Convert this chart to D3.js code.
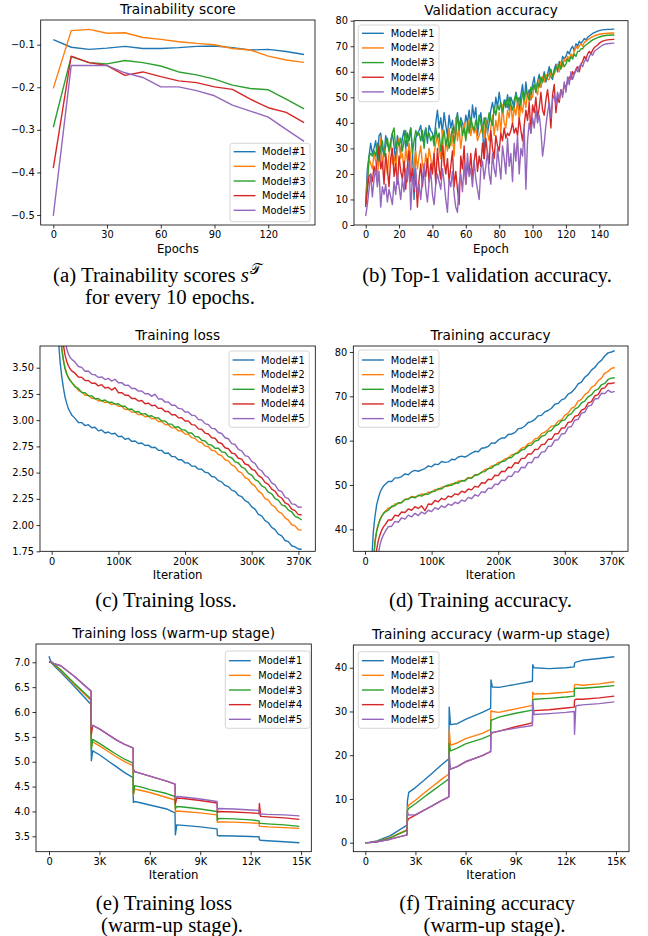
<!DOCTYPE html>
<html><head><meta charset="utf-8">
<script src="https://cdn.jsdelivr.net/npm/d3@7"></script>
<style>body{margin:0;background:#fff}</style>
</head><body>
<svg id="c" width="648" height="936" xmlns="http://www.w3.org/2000/svg"></svg>
<script>
// ---------------- DATA ----------------
const models = ["Model#1","Model#2","Model#3","Model#4","Model#5"];
const colors = ["#1f77b4","#ff7f0e","#2ca02c","#d62728","#9467bd"];

// (a) trainability score every 10 epochs
const scoreEpochs = [0,10,20,30,40,50,60,70,80,90,100,110,120,130,140];
const score1 = [-0.088,-0.106,-0.111,-0.108,-0.104,-0.109,-0.109,-0.107,-0.104,-0.103,-0.107,-0.1125,-0.111,-0.116,-0.123];
const score2 = [-0.2025,-0.067,-0.064,-0.073,-0.072,-0.083,-0.0875,-0.093,-0.097,-0.100,-0.109,-0.1125,-0.127,-0.136,-0.1415];
const score3 = [-0.294,-0.128,-0.142,-0.145,-0.137,-0.142,-0.150,-0.164,-0.171,-0.181,-0.195,-0.203,-0.206,-0.228,-0.251];
const score4 = [-0.390,-0.127,-0.142,-0.149,-0.172,-0.164,-0.175,-0.185,-0.189,-0.199,-0.205,-0.228,-0.248,-0.259,-0.283];
const score5 = [-0.502,-0.149,-0.149,-0.149,-0.166,-0.177,-0.199,-0.199,-0.208,-0.220,-0.242,-0.256,-0.270,-0.299,-0.327];

// (b) top-1 validation accuracy per epoch (0..149)
const valEpochs = [0,1,2,3,4,5,6,7,8,9,10,11,12,13,14,15,16,17,18,19,20,21,22,23,24,25,26,27,28,29,30,31,32,33,34,35,36,37,38,39,40,41,42,43,44,45,46,47,48,49,50,51,52,53,54,55,56,57,58,59,60,61,62,63,64,65,66,67,68,69,70,71,72,73,74,75,76,77,78,79,80,81,82,83,84,85,86,87,88,89,90,91,92,93,94,95,96,97,98,99,100,101,102,103,104,105,106,107,108,109,110,111,112,113,114,115,116,117,118,119,120,121,122,123,124,125,126,127,128,129,130,131,132,133,134,135,136,137,138,139,140,141,142,143,144,145,146,147,148,149];
const val1 = [8,22,27,32,28,30,33,26,35,36, 30,27,35,32,29,33,36,31,25,35, 32,28,34,37,30,36,33,38,30,10, 34,36,37,39,33,35,38,32,39,37,
 36,33,40,45,38,42,36,44,39,35, 43,38,41,36,40,44,38,42,40,37, 43,40,45,38,47,42,46,35,41,44, 38,26,42,36,40,45,48,44,50,46,
 52,47,44,49,46,51,45,50,48,46, 52,49,45,51,55,48,56,50,53,49, 55,58,52,56,59,54,57,60,56,59, 62,58,57,61,63,60,64,62,66,65,
 66,68,67,69,70,68,71,70,72,71, 72,73,72.5,73.5,74,74.5,75,75.3,75.6,75.9, 76.1,76.3,76.4,76.5,76.5,76.6,76.6,76.6,76.7,76.7];
const val2 = [10,17,26,24,22,28,25,18,27,34, 22,30,26,20,28,33,24,27,22,29, 34,26,28,21,30,25,32,27,19,24, 29,22,27,31,24,20,28,23,30,26,
 22,28,32,35,30,26,37,23,33,29, 38,31,35,27,42,33,38,30,36,40, 34,37,41,35,39,36,38,33,35,37, 39,34,41,36,33,38,43,35,41,37,
 44,36,47,40,38,45,42,48,40,46, 43,49,41,47,44,50,46,52,48,51, 50,55,53,51,57,54,58,56,59,57, 57,60,58,59,61,63,60,64,62,65,
 64,66,65,67,66,68,70,69,70,71, 70,71.5,72,72.5,73,73.4,73.8,74.1,74.3,74.5, 74.7,74.8,74.9,75.0,75.0,75.1,75.1,75.2,75.2,75.2];
const val3 = [8,15,27,28,27,29,27,32,25,30, 33,27,31,34,29,32,36,38,30,33, 31,34,29,33,37,31,35,38,28,33, 37,35,36,33,37,30,38,34,36,33,
 35,31,38,34,36,29,33,37,31,35, 30,34,38,32,36,43,37,41,35,38, 33,40,36,42,39,37,41,38,43,40, 36,42,38,40,44,41,39,46,43,47,
 45,48,44,47,49,46,50,47,45,49, 51,48,50,47,52,49,53,51,49,54, 53,55,52,56,54,58,56,59,57,58, 59,61,58,60,62,61,63,61,64,62,
 63,65,64,66,65,67,66,68,68,69, 69,70,70.5,71,71.5,72,72.5,72.8,73.1,73.4, 73.6,73.8,74.0,74.1,74.2,74.3,74.3,74.4,74.4,74.4];
const val4 = [7,14,19,20,17,23,20,26,31,22, 25,16,28,22,15,26,30,19,24,16, 27,21,18,25,14,23,29,17,22,13, 20,7,18,24,15,22,19,26,17,24,
 20,28,16,30,22,18,31,25,20,26, 17,23,29,15,21,14,8,27,22,31, 16,24,20,28,18,25,30,21,27,23, 32,26,34,28,24,37,30,26,35,31,
 29,36,33,38,34,36,35,37,40,36, 38,35,42,37,33,39,45,41,48,36, 47,44,50,42,46,52,45,43,49,53, 47,38,51,55,44,50,48,53,51,55,
 54,56,58,57,60,59,61,62,60,63, 64,66,65,67,68,67,68.5,69.5,70,70.5, 71.2,71.6,72.0,72.2,72.4,72.5,72.6,72.6,72.7,72.7];
const val5 = [3.5,8,14,20,11,18,22,15,21,7, 15,12,16,9,14,11,8,17,12,20, 15,10,18,13,22,17,25,6,19,14, 22,12,16,10,18,24,14,9,17,21,
 12,8,16,20,17,14,22,17,10,5, 18,15,21,12,7,5,16,20,13,24, 16,28,19,22,15,25,18,14,10,22, 25,18,23,29,20,16,28,22,19,30,
 24,18,31,26,20,34,23,28,17,32, 25,35,20,30,27,38,14,33,40,36, 42,38,45,40,43,37,27,32,39,44, 48,42,49,51,47,52,49,53,50,56,
 52,58,55,60,57,59,61,60,62,63, 62,64,65,64,66,67,66.5,68,68.5,69, 69.5,70.0,70.4,70.7,70.9,71.0,71.1,71.1,71.2,71.2];

// (c),(d) training loss / accuracy vs iteration (K)
const iterK = [0,5,10,12.5,15,17.5,20,22.5,25,27.5,30,35,40,45,50,55,60,65,70,75,80,85,90,95,100,105,110,115,120,125,130,135,140,145,150,155,160,165,170,175,180,185,190,195,200,205,210,215,220,225,230,235,240,245,250,255,260,265,270,275,280,285,290,295,300,305,310,315,320,325,330,335,340,345,350,355,360,365,370,375];
const loss1 = [7.0,5.3,3.78,3.56,3.42,3.31,3.22,3.16,3.11,3.08,3.05,
 3.017,2.978,2.977,2.948,2.957,2.928,2.932,2.898,2.907,2.878,2.887,2.868,2.875,2.843,
 2.847,2.818,2.827,2.798,2.802,2.778,2.782,2.758,2.762,2.738,
 2.742,2.713,2.712,2.683,2.687,2.653,2.652,2.623,2.622,2.593,
 2.592,2.563,2.562,2.533,2.532,2.503,2.497,2.463,2.457,2.423,
 2.412,2.378,2.367,2.333,2.322,2.283,2.272,2.233,2.217,2.173,
 2.152,2.103,2.087,2.043,2.022,1.978,1.957,1.913,1.897,1.853,
 1.842,1.803,1.792,1.772,1.77];
const loss2 = [7.0,5.8,4.4,3.95,3.7,3.58,3.5,3.45,3.41,3.38,3.36,
 3.327,3.283,3.272,3.238,3.237,3.208,3.207,3.183,3.187,3.168,3.172,3.148,3.157,3.133,
 3.132,3.103,3.102,3.078,3.077,3.053,3.057,3.033,3.037,3.013,
 3.017,2.988,2.987,2.958,2.957,2.928,2.927,2.898,2.897,2.868,
 2.867,2.833,2.827,2.793,2.787,2.753,2.747,2.713,2.707,2.673,
 2.662,2.623,2.612,2.573,2.557,2.513,2.497,2.453,2.437,2.393,
 2.372,2.323,2.302,2.253,2.237,2.193,2.172,2.128,2.112,2.068,
 2.047,2.003,1.992,1.955,1.952];
const loss3 = [7.0,5.8,4.35,3.92,3.68,3.57,3.49,3.44,3.405,3.38,3.36,
 3.318,3.302,3.263,3.262,3.233,3.232,3.203,3.207,3.183,3.192,3.168,3.172,3.153,3.157,
 3.133,3.132,3.103,3.107,3.078,3.082,3.058,3.062,3.038,3.042,
 3.023,3.022,2.993,2.992,2.963,2.962,2.933,2.937,2.908,2.907,
 2.878,2.877,2.843,2.842,2.808,2.802,2.768,2.762,2.733,2.732,
 2.698,2.692,2.653,2.642,2.603,2.592,2.553,2.537,2.493,2.477,
 2.433,2.417,2.373,2.357,2.313,2.297,2.253,2.237,2.193,2.182,
 2.143,2.127,2.083,2.07,2.048];
const loss4 = [7.0,6.1,4.9,4.35,3.95,3.72,3.62,3.56,3.52,3.49,3.47,
 3.448,3.412,3.408,3.377,3.378,3.352,3.353,3.327,3.338,3.307,3.313,3.287,3.31,3.262,
 3.263,3.237,3.238,3.207,3.208,3.182,3.188,3.157,3.163,3.137,
 3.143,3.112,3.113,3.082,3.083,3.052,3.053,3.022,3.023,2.992,
 2.993,2.957,2.953,2.917,2.913,2.877,2.868,2.832,2.828,2.787,
 2.778,2.737,2.728,2.687,2.678,2.637,2.628,2.582,2.573,2.532,
 2.518,2.472,2.453,2.407,2.388,2.342,2.323,2.277,2.258,2.212,
 2.198,2.152,2.138,2.1,2.098];
const loss5 = [7.0,6.3,5.2,4.7,4.25,3.95,3.78,3.68,3.63,3.6,3.58,
 3.553,3.512,3.503,3.467,3.468,3.437,3.433,3.407,3.413,3.387,3.398,3.372,3.39,3.357,
 3.358,3.332,3.333,3.302,3.303,3.277,3.278,3.252,3.253,3.227,
 3.248,3.202,3.203,3.172,3.173,3.142,3.143,3.112,3.108,3.077,
 3.078,3.047,3.043,3.007,3.003,2.967,2.958,2.922,2.918,2.882,
 2.873,2.832,2.823,2.777,2.768,2.722,2.708,2.662,2.653,2.607,
 2.588,2.537,2.518,2.472,2.453,2.402,2.383,2.332,2.318,2.267,
 2.253,2.202,2.197,2.17,2.172];
const acc1 = [0,5,33,39.5,43,45.5,47,48.3,49.1,49.7,50.1,
 50.8,50.8,51.6,51.6,51.9,52.5,52.3,53.0,53.3,53.1,53.4,53.7,54.3,54.1,
 54.7,54.6,55.3,55.1,55.2,55.8,55.7,56.3,56.5,56.3,
 56.7,57.2,57.6,57.5,58.3,58.4,58.7,59.5,59.4,60.1,
 60.6,60.6,61.4,61.5,61.8,62.7,62.8,63.3,64.1,64.3,
 64.8,65.6,65.7,66.5,66.8,67.3,68.2,68.4,69.2,69.5,
 70.5,70.9,71.7,72.8,73.2,74.3,74.9,75.9,76.5,77.5,
 78.1,79.1,79.8,80.0,80.3];
const acc2 = [0,2,22,33,37.5,39.8,41.2,42.3,43.0,43.6,44.0,
 44.8,44.9,45.7,45.8,46.1,46.8,46.9,47.4,47.3,47.5,48.0,47.8,48.4,48.3,
 49.0,48.9,49.5,49.7,49.7,50.3,50.2,50.9,50.8,51.1,
 51.7,51.6,52.3,52.4,52.8,53.5,53.6,54.3,54.4,55.1,
 55.2,55.9,56.1,56.8,57.0,57.5,58.3,58.5,59.3,59.5,
 60.4,60.6,61.6,61.9,62.5,63.3,63.4,64.4,64.7,65.7,
 66.2,67.3,67.7,68.9,69.3,70.4,70.9,72.0,72.5,73.5,
 74.1,75.2,75.6,76.3,76.5];
const acc3 = [0,2,21,32,37,39.5,41.0,42.1,42.9,43.5,43.9,
 44.3,45.2,45.3,46.0,46.0,46.7,46.8,47.3,47.1,47.7,47.5,48.0,47.9,48.5,
 48.6,49.2,49.1,49.7,50.0,49.9,50.5,50.4,51.0,50.9,
 51.6,51.5,52.2,52.3,52.9,53.0,53.7,53.8,54.5,54.6,
 55.3,55.4,56.1,56.2,57.0,57.2,57.9,58.1,58.9,59.0,
 59.9,60.1,61.0,61.2,62.1,62.3,63.3,63.6,64.5,64.7,
 65.7,66.1,67.1,67.5,68.5,68.9,69.9,70.3,71.3,71.6,
 72.6,72.9,73.8,74.1,74.2];
const acc4 = [0,1.5,15,25,31.5,35.5,37.5,38.8,39.8,40.5,41.0,
 42.1,42.1,43.2,43.0,43.9,43.8,44.6,44.3,45.1,44.7,45.3,44.2,45.7,45.6,
 46.5,46.2,47.0,46.7,47.5,47.3,48.0,47.8,48.6,48.3,
 49.1,48.9,49.7,49.5,50.5,50.4,51.3,51.2,52.2,52.1,
 53.1,53.0,54.0,53.9,55.0,54.9,56.0,56.0,57.0,57.0,
 58.0,58.1,59.1,59.2,60.3,60.3,61.5,61.6,62.8,62.9,
 64.1,64.3,65.5,65.7,66.9,67.2,68.5,68.8,70.1,70.4,
 71.7,71.9,72.9,72.9,73.1];
const acc5 = [0,1,10,18,25,31,34.5,36.5,37.8,38.7,39.4,
 40.6,40.7,41.8,41.6,42.6,42.3,43.2,42.8,43.6,43.1,43.9,43.5,44.3,44.0,
 44.9,44.5,45.3,44.9,45.7,45.4,46.1,45.8,46.6,46.3,
 47.2,46.9,47.8,47.5,48.5,48.3,49.3,49.2,50.2,50.1,
 51.1,51.0,52.0,51.9,53.0,52.9,54.0,53.9,55.1,55.0,
 56.2,56.2,57.4,57.5,58.7,58.8,60.1,60.2,61.5,61.6,
 63.0,63.2,64.6,64.8,66.2,66.4,67.8,68.0,69.4,69.5,
 70.7,70.6,71.4,70.9,71.1];

// (e),(f) warm-up stage vs iteration (K)
const warmK = [0,0.1,0.3,0.7,1.5,2.5,2.52,2.6,3,3.5,4,4.5,5,5.02,5.1,5.5,6,7,7.5,7.52,7.6,8,9,10,10.02,10.1,11,12,12.5,12.52,12.6,13,14,14.9];
const wloss1 = [7.12,7.02,6.93,6.80,6.52,6.15,5.02,5.22,5.14,5.02,4.9,4.78,4.68,4.18,4.2,4.17,4.13,4.05,3.97,3.53,3.73,3.72,3.69,3.65,3.52,3.51,3.505,3.495,3.49,3.43,3.42,3.41,3.39,3.37];
const wloss2 = [7.0,7.0,6.95,6.83,6.56,6.23,5.3,5.4,5.32,5.21,5.1,5.0,4.92,4.33,4.45,4.42,4.38,4.28,4.23,3.98,4.01,4.0,3.97,3.93,3.78,3.79,3.785,3.77,3.76,3.70,3.70,3.69,3.675,3.66];
const wloss3 = [7.0,7.0,6.96,6.85,6.58,6.26,5.23,5.45,5.37,5.26,5.15,5.05,4.97,4.35,4.52,4.49,4.44,4.36,4.30,4.05,4.10,4.09,4.05,4.0,3.82,3.86,3.85,3.83,3.81,3.76,3.76,3.75,3.73,3.70];
const wloss4 = [7.0,7.02,6.97,6.93,6.72,6.42,5.55,5.73,5.66,5.55,5.44,5.35,5.28,4.85,4.80,4.76,4.71,4.61,4.55,4.15,4.27,4.26,4.22,4.17,3.98,4.0,3.99,3.97,3.96,4.16,3.90,3.89,3.87,3.84];
const wloss5 = [7.0,7.02,6.97,6.93,6.72,6.42,5.70,5.73,5.66,5.55,5.44,5.35,5.28,4.78,4.80,4.76,4.71,4.61,4.55,4.25,4.30,4.29,4.25,4.20,4.03,4.06,4.05,4.03,4.02,3.93,3.95,3.94,3.93,3.91];
const wacc1 = [0,0.02,0.1,0.4,1.6,4.0,9.5,11.5,12.6,14.2,15.9,17.6,19.2,31.0,27.0,27.2,28.2,29.8,30.7,37.2,35.6,35.5,36.2,36.9,40.7,40.0,39.8,40.0,40.2,41.0,41.3,41.7,42.1,42.5];
const wacc2 = [0,0.02,0.08,0.3,1.2,3.0,8.0,8.6,9.7,11.3,12.8,14.3,15.7,25.8,22.3,22.8,23.8,25.0,25.9,30.2,30.0,29.8,30.6,31.4,34.4,34.0,34.1,34.4,34.6,36.1,36.2,36.0,36.3,36.8];
const wacc3 = [0,0.02,0.07,0.28,1.1,2.8,7.3,7.85,8.9,10.4,11.8,13.2,14.6,22.7,21.0,21.6,22.6,23.8,24.6,28.0,28.1,28.7,29.6,30.3,32.6,32.8,33.0,33.3,33.5,35.2,35.3,35.3,35.6,35.9];
const wacc4 = [0,0.01,0.05,0.2,0.8,1.8,5.0,5.5,6.3,7.4,8.4,9.5,10.5,16.7,16.8,17.4,18.5,19.9,20.8,25.1,25.1,25.5,26.5,27.4,30.0,30.2,30.4,30.8,31.0,32.6,32.8,32.8,33.1,33.5];
const wacc5 = [0,0.01,0.05,0.2,0.8,1.8,7.0,6.3,6.4,7.4,8.4,9.5,10.5,20.3,16.8,17.4,18.5,19.9,20.8,25.3,25.2,25.5,26.2,26.8,32.2,29.3,29.5,29.8,30.0,24.8,31.3,31.5,31.8,32.2];

// tick labels
const ticksA_x = [0,30,60,90,120], ticksA_y = [-0.5,-0.4,-0.3,-0.2,-0.1];
const ticksB_x = [0,20,40,60,80,100,120,140], ticksB_y = [0,10,20,30,40,50,60,70,80];
const ticksIter = [0,100,200,300,370];
const ticksC_y = [1.75,2.00,2.25,2.50,2.75,3.00,3.25,3.50];
const ticksD_y = [40,50,60,70,80];
const ticksWarm = [0,3,6,9,12,15];
const ticksE_y = [3.5,4.0,4.5,5.0,5.5,6.0,6.5,7.0];
const ticksF_y = [0,10,20,30,40];

// ---------------- DRAW ----------------
const svg = d3.select("#c");
const SANS = "'DejaVu Sans', sans-serif";
const kfmt = d => d === 0 ? "0" : d + "K";

function panel(cfg){
  const [x0,y0,x1,y1] = cfg.rect;
  const x = d3.scaleLinear().domain(cfg.xd).range([x0,x1]);
  const y = d3.scaleLinear().domain(cfg.yd).range([y1,y0]);
  const g = svg.append("g");
  const cid = "clip" + cfg.id;
  svg.append("clipPath").attr("id",cid).append("rect")
     .attr("x",x0).attr("y",y0).attr("width",x1-x0).attr("height",y1-y0);
  const lg = g.append("g").attr("clip-path",`url(#${cid})`);
  const line = d3.line().x(d=>x(d[0])).y(d=>y(d[1]));
  cfg.series.forEach((s,i)=>{
    lg.append("path").datum(cfg.xs.map((xv,j)=>[xv,s[j]]))
      .attr("d",line).attr("fill","none").attr("stroke",colors[i])
      .attr("stroke-width",1.4).attr("stroke-linejoin","round");
  });
  const xa = g.append("g").attr("transform",`translate(0,${y1})`)
     .call(d3.axisBottom(x).tickValues(cfg.xt).tickFormat(cfg.xf).tickSize(3.5).tickPadding(3));
  const ya = g.append("g").attr("transform",`translate(${x0},0)`)
     .call(d3.axisLeft(y).tickValues(cfg.yt).tickFormat(cfg.yf).tickSize(3.5).tickPadding(2.5));
  [xa,ya].forEach(a=>{
    a.select(".domain").remove();
    a.selectAll("line").attr("stroke","#000").attr("stroke-width",0.8);
    a.selectAll("text").attr("font-family",SANS).attr("font-size","9.8px").attr("fill","#000");
  });
  g.append("rect").attr("x",x0).attr("y",y0).attr("width",x1-x0).attr("height",y1-y0)
   .attr("fill","none").attr("stroke","#000").attr("stroke-width",0.8);
  g.append("text").attr("x",(x0+x1)/2).attr("y",y0-5.8).attr("text-anchor","middle")
   .attr("font-family",SANS).attr("font-size","13.7px").text(cfg.title);
  g.append("text").attr("x",(x0+x1)/2).attr("y",y1+27.5).attr("text-anchor","middle")
   .attr("font-family",SANS).attr("font-size","11.7px").text(cfg.xlabel);
  // legend
  const L = cfg.legend;
  const lgd = g.append("g");
  lgd.append("rect").attr("x",L.x).attr("y",L.y).attr("width",L.w).attr("height",L.h)
     .attr("rx",2.5).attr("fill","#fff").attr("fill-opacity",0.8)
     .attr("stroke","#cccccc").attr("stroke-width",0.8);
  models.forEach((m,i)=>{
    const ry = L.r0 + i*14.65;
    lgd.append("line").attr("x1",L.x+3.6).attr("x2",L.x+25.5).attr("y1",ry).attr("y2",ry)
       .attr("stroke",colors[i]).attr("stroke-width",1.4);
    lgd.append("text").attr("x",L.x+L.tx).attr("y",ry+3.5).attr("font-family",SANS)
       .attr("font-size","9.8px").text(m);
  });
}

panel({id:"a", rect:[40.7,20,315,225], xd:[-7.03,146.1], yd:[-0.5235,-0.042],
  xs:scoreEpochs, series:[score1,score2,score3,score4,score5],
  xt:ticksA_x, xf:d3.format("d"), yt:ticksA_y, yf:d3.format(".1f"),
  title:"Trainability score", xlabel:"Epochs",
  legend:{x:230,y:143.3,w:80,h:78.4,r0:151.7,tx:32}});
panel({id:"b", rect:[354,20.7,628,225], xd:[-7.0,157.2], yd:[0,80],
  xs:valEpochs, series:[val1,val2,val3,val4,val5],
  xt:ticksB_x, xf:d3.format("d"), yt:ticksB_y, yf:d3.format("d"),
  title:"Validation accuracy", xlabel:"Epoch",
  legend:{x:358.3,y:25,w:80.7,h:76.7,r0:33.3,tx:32.4}});
panel({id:"c", rect:[40,346,315.3,551.3], xd:[-17.55,395.4], yd:[1.75,3.707],
  xs:iterK, series:[loss1,loss2,loss3,loss4,loss5],
  xt:ticksIter, xf:kfmt, yt:ticksC_y, yf:d3.format(".2f"),
  title:"Training loss", xlabel:"Iteration",
  legend:{x:229,y:351,w:80.3,h:76.3,r0:360,tx:32}});
panel({id:"d", rect:[353.3,346,628,551.3], xd:[-17.6,394.9], yd:[35.04,81.35],
  xs:iterK, series:[acc1,acc2,acc3,acc4,acc5],
  xt:ticksIter, xf:kfmt, yt:ticksD_y, yf:d3.format("d"),
  title:"Training accuracy", xlabel:"Iteration",
  legend:{x:358.3,y:350,w:80.7,h:77.3,r0:360,tx:32.4}});
panel({id:"e", rect:[36,644,311.3,851.7], xd:[-0.774,15.61], yd:[3.19,7.368],
  xs:warmK, series:[wloss1,wloss2,wloss3,wloss4,wloss5],
  xt:ticksWarm, xf:kfmt, yt:ticksE_y, yf:d3.format(".1f"),
  title:"Training loss (warm-up stage)", xlabel:"Iteration",
  legend:{x:225.3,y:651,w:84.7,h:77.3,r0:660.7,tx:33}});
panel({id:"f", rect:[353.3,645,629,851.7], xd:[-0.718,15.78], yd:[-2.06,45.2],
  xs:warmK, series:[wacc1,wacc2,wacc3,wacc4,wacc5],
  xt:ticksWarm, xf:kfmt, yt:ticksF_y, yf:d3.format("d"),
  title:"Training accuracy (warm-up stage)", xlabel:"Iteration",
  legend:{x:358.3,y:651.7,w:80.7,h:76.6,r0:660.7,tx:32.4}});

// captions
const SERIF = "'Liberation Serif','Times New Roman',serif";
function cap(x, y, anchor, parts){
  const t = svg.append("text").attr("x",x).attr("y",y).attr("text-anchor",anchor)
    .attr("font-family",SERIF).attr("font-size","20.8px").attr("fill","#000");
  parts.forEach(p=>{
    const s = t.append("tspan").text(p.t);
    if(p.it) s.attr("font-style","italic");
    if(p.sup) s.attr("font-size","15px").attr("dy",-8).attr("dx",1);
  });
}
cap(53,282,"start",[{t:"(a) Trainability scores "},{t:"s",it:true},{t:"𝒯",sup:true}]);
cap(170,304,"middle",[{t:"for every 10 epochs."}]);
cap(487,282,"middle",[{t:"(b) Top-1 validation accuracy."}]);
cap(166,607,"middle",[{t:"(c) Training loss."}]);
cap(480.5,607,"middle",[{t:"(d) Training accuracy."}]);
cap(164,910,"middle",[{t:"(e) Training loss"}]);
cap(172,932,"middle",[{t:"(warm-up stage)."}]);
cap(487,910,"middle",[{t:"(f) Training accuracy"}]);
cap(494.5,932,"middle",[{t:"(warm-up stage)."}]);
</script>
</body></html>
